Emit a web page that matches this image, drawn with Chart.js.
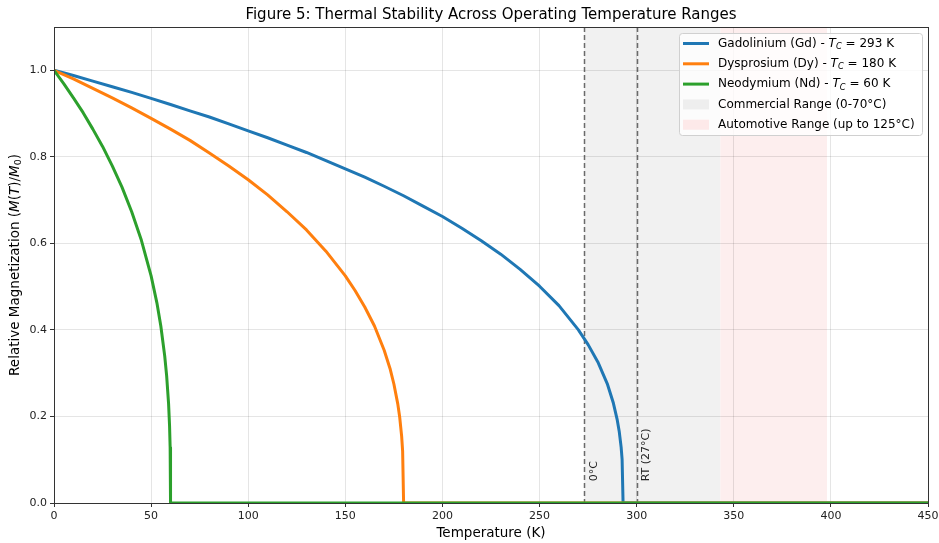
<!DOCTYPE html>
<html>
<head>
<meta charset="utf-8">
<script src="https://cdn.jsdelivr.net/npm/chart.js@4"></script>
<style>
  body { margin: 0; background: #fff; }
  canvas { display: block; }
</style>
</head>
<body>
<canvas id="chart" width="939" height="543"></canvas>
<script>
// values
const gdTemps = [0, 10, 20, 30, 40, 50, 60, 70, 80, 90, 100, 110, 120, 130, 140, 150, 160, 170, 180, 190, 200, 210, 220, 230, 240, 250, 260, 270, 275, 280, 285, 288, 290, 291, 292, 292.5, 293, 300, 350, 400, 450];
const gdValues = [1.0, 0.988, 0.975, 0.962, 0.949, 0.935, 0.921, 0.906, 0.892, 0.876, 0.860, 0.844, 0.827, 0.810, 0.791, 0.772, 0.753, 0.732, 0.710, 0.686, 0.662, 0.635, 0.606, 0.575, 0.540, 0.501, 0.456, 0.400, 0.366, 0.326, 0.274, 0.231, 0.192, 0.166, 0.129, 0.101, 0, 0, 0, 0, 0];
const dyTemps = [0, 10, 20, 30, 40, 50, 60, 70, 80, 90, 100, 110, 120, 130, 140, 150, 155, 160, 165, 170, 173, 175, 177, 178, 179, 179.5, 180, 200, 300, 450];
const dyValues = [1.0, 0.980, 0.958, 0.936, 0.913, 0.889, 0.864, 0.838, 0.809, 0.779, 0.747, 0.712, 0.673, 0.631, 0.582, 0.525, 0.491, 0.453, 0.409, 0.353, 0.311, 0.275, 0.229, 0.198, 0.154, 0.120, 0, 0, 0, 0];
const ndTemps = [0, 5, 10, 15, 20, 25, 30, 35, 40, 45, 50, 53, 55, 57, 58, 59, 59.5, 59.8, 60, 100, 200, 300, 450];
const ndValues = [1.0, 0.969, 0.936, 0.902, 0.864, 0.824, 0.779, 0.730, 0.673, 0.607, 0.525, 0.462, 0.409, 0.340, 0.294, 0.229, 0.178, 0.128, 0, 0, 0, 0, 0];

const seriesNames = ['Gadolinium (Gd)', 'Dysprosium (Dy)', 'Neodymium (Nd)'];
const curieTemps = [293, 180, 60];
const seriesColors = ['#1f77b4', '#ff7f0e', '#2ca02c'];

const commercialRange = [273, 343];
const automotiveRange = [343, 398];
const markerTemps = [273, 300];
const markerLabels = ['0°C', 'RT (27°C)'];
const xTicks = [0, 50, 100, 150, 200, 250, 300, 350, 400, 450];
const yTicks = [0, 0.2, 0.4, 0.6, 0.8, 1.0];

const FONT = "'DejaVu Sans', sans-serif";

function toPoints(xs, ys) {
  return xs.map((x, i) => ({ x: x, y: ys[i] }));
}

function richWidth(ctx, parts, size) {
  let w = 0;
  for (const p of parts) {
    ctx.font = (p.i ? 'italic ' : '') + (p.sub ? size * 0.7 : size) + 'px ' + FONT;
    w += ctx.measureText(p.t).width;
  }
  return w;
}

function drawRich(ctx, parts, x, y, size) {
  ctx.textBaseline = 'middle';
  ctx.textAlign = 'left';
  let cx = x;
  for (const p of parts) {
    ctx.font = (p.i ? 'italic ' : '') + (p.sub ? size * 0.7 : size) + 'px ' + FONT;
    ctx.fillText(p.t, cx, p.sub ? y + size * 0.28 : y);
    cx += ctx.measureText(p.t).width;
  }
}

const decorations = {
  id: 'decorations',
  beforeDraw(chart) {
    const ctx = chart.ctx;
    const x = chart.scales.x;
    const a = chart.chartArea;
    ctx.save();
    ctx.fillStyle = '#fdeeee';
    const p0 = x.getPixelForValue(automotiveRange[0]);
    const p1 = x.getPixelForValue(automotiveRange[1]);
    ctx.fillRect(p0, a.top, p1 - p0, a.bottom - a.top);
    ctx.fillStyle = '#f1f1f1';
    const c0 = x.getPixelForValue(commercialRange[0]);
    const c1 = x.getPixelForValue(commercialRange[1]);
    ctx.fillRect(c0, a.top, c1 - c0, a.bottom - a.top);
    ctx.restore();
  },
  beforeDatasetsDraw(chart) {
    const ctx = chart.ctx;
    const x = chart.scales.x;
    const y = chart.scales.y;
    const a = chart.chartArea;
    ctx.save();
    ctx.strokeStyle = 'rgba(60,60,60,0.75)';
    ctx.lineWidth = 1.5;
    ctx.setLineDash([5, 3]);
    markerTemps.forEach((t, i) => {
      const px = Math.round(x.getPixelForValue(t)) + 0.5;
      ctx.beginPath();
      ctx.moveTo(px, a.top);
      ctx.lineTo(px, a.bottom);
      ctx.stroke();
      ctx.save();
      ctx.translate(x.getPixelForValue(t + 5), y.getPixelForValue(0.05));
      ctx.rotate(-Math.PI / 2);
      ctx.fillStyle = '#222';
      ctx.font = '11px ' + FONT;
      ctx.textAlign = 'left';
      ctx.textBaseline = 'middle';
      ctx.fillText(markerLabels[i], 0, 0);
      ctx.restore();
    });
    ctx.restore();
  },
  afterDraw(chart) {
    const ctx = chart.ctx;
    const a = chart.chartArea;
    ctx.save();
    // frame
    ctx.strokeStyle = '#333';
    ctx.lineWidth = 1;
    ctx.setLineDash([]);
    ctx.strokeRect(Math.round(a.left) + 0.5, Math.round(a.top) + 0.5, Math.round(a.right - a.left), Math.round(a.bottom - a.top));

    ctx.fillStyle = '#000';
    // title
    ctx.font = '15px ' + FONT;
    ctx.textAlign = 'center';
    ctx.textBaseline = 'middle';
    ctx.fillText('Figure 5: Thermal Stability Across Operating Temperature Ranges', (a.left + a.right) / 2, 15);
    // x label
    ctx.font = '13.5px ' + FONT;
    ctx.fillText('Temperature (K)', (a.left + a.right) / 2, 533);
    // y label
    const yParts = [
      { t: 'Relative Magnetization (' }, { t: 'M', i: true }, { t: '(' }, { t: 'T', i: true },
      { t: ')/' }, { t: 'M', i: true }, { t: '0', sub: true }, { t: ')' }
    ];
    ctx.save();
    ctx.translate(15, (a.top + a.bottom) / 2);
    ctx.rotate(-Math.PI / 2);
    const yw = richWidth(ctx, yParts, 13.5);
    drawRich(ctx, yParts, -yw / 2, 0, 13.5);
    ctx.restore();

    // legend
    const lx = 679, ly = 33, lw = 243, lh = 102;
    ctx.fillStyle = 'rgba(255,255,255,0.8)';
    ctx.strokeStyle = '#d0d0d0';
    ctx.lineWidth = 1;
    ctx.beginPath();
    ctx.roundRect(lx + 0.5, ly + 0.5, lw, lh, 3);
    ctx.fill();
    ctx.stroke();
    const rowH = 20.3;
    let ry = ly + 10.5;
    seriesNames.forEach((name, i) => {
      ctx.strokeStyle = seriesColors[i];
      ctx.lineWidth = 3;
      ctx.beginPath();
      ctx.moveTo(683, ry);
      ctx.lineTo(709, ry);
      ctx.stroke();
      ctx.fillStyle = '#000';
      drawRich(ctx, [{ t: name + ' - ' }, { t: 'T', i: true }, { t: 'C', i: true, sub: true }, { t: ' = ' + curieTemps[i] + ' K' }], 718, ry, 12);
      ry += rowH;
    });
    const spanNames = ['Commercial Range (0-70°C)', 'Automotive Range (up to 125°C)'];
    const spanColors = ['#eeeeee', '#fde9e9'];
    spanNames.forEach((name, i) => {
      ctx.fillStyle = spanColors[i];
      ctx.fillRect(683, ry - 5, 26, 10);
      ctx.fillStyle = '#000';
      drawRich(ctx, [{ t: name }], 718, ry, 12);
      ry += rowH;
    });
    ctx.restore();
  }
};

const datasets = [
  toPoints(gdTemps, gdValues),
  toPoints(dyTemps, dyValues),
  toPoints(ndTemps, ndValues)
].map((pts, i) => ({
  label: seriesNames[i],
  data: pts,
  borderColor: seriesColors[i],
  borderWidth: 3,
  borderJoinStyle: 'round',
  pointRadius: 0,
  tension: 0,
  fill: false,
  order: 3 - i
}));

new Chart(document.getElementById('chart'), {
  type: 'line',
  data: { datasets: datasets },
  options: {
    responsive: false,
    animation: false,
    layout: { padding: { top: 27, right: 11, left: 0, bottom: 0 } },
    plugins: { legend: { display: false }, tooltip: { enabled: false } },
    scales: {
      x: {
        type: 'linear',
        min: 0,
        max: 450,
        afterBuildTicks: (s) => { s.ticks = xTicks.map(v => ({ value: v })); },
        afterFit: (s) => { s.height = 40; s.paddingLeft = 0; s.paddingRight = 0; },
        ticks: { color: '#222', font: { family: FONT, size: 11 }, padding: 3, maxRotation: 0 },
        grid: { color: 'rgba(0,0,0,0.1)', tickLength: 4, tickColor: '#333' },
        border: { color: '#333', width: 1 }
      },
      y: {
        min: 0,
        max: 1.1,
        afterBuildTicks: (s) => { s.ticks = yTicks.map(v => ({ value: v })); },
        afterFit: (s) => { s.width = 54; s.paddingTop = 0; s.paddingBottom = 0; },
        ticks: { color: '#222', font: { family: FONT, size: 11 }, padding: 3, callback: (v) => v.toFixed(1) },
        grid: { color: 'rgba(0,0,0,0.1)', tickLength: 4, tickColor: '#333' },
        border: { color: '#333', width: 1 }
      }
    }
  },
  plugins: [decorations]
});
</script>
</body>
</html>
